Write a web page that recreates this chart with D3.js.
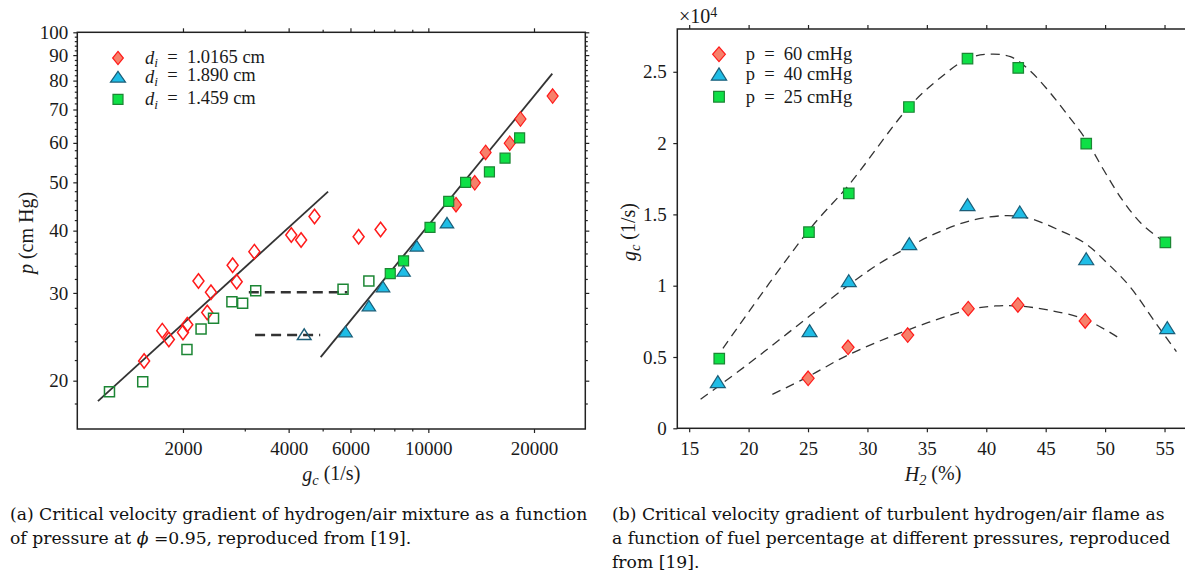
<!DOCTYPE html>
<html>
<head>
<meta charset="utf-8">
<script src="https://cdn.jsdelivr.net/npm/d3@7"></script>
<style>
  body { margin: 0; background: #fff; }
  svg text { font-family: "Liberation Serif", "Times New Roman", serif; fill: #1a1a1a; }
  svg text.caption { font-family: "DejaVu Serif", serif; fill: #111; }
</style>
</head>
<body>
<svg id="chart" width="1185" height="574"></svg>
<script>
// ---- left panel data: [g_c (1/s), p (cm Hg)] ----
const leftRedFilled = [[22600, 74.5], [18300, 67.0], [17060, 59.9], [14560, 57.4], [13560, 49.9], [11990, 45.1]];
const leftRedOpen = [
  [4740, 42.7], [4070, 39.2], [4340, 38.3], [6330, 38.9], [7310, 40.2], [3195, 36.3],
  [2770, 34.1], [2845, 31.6], [2214, 31.7], [2403, 30.1], [2345, 27.4], [2057, 25.9],
  [2000, 25.0], [1746, 25.2], [1823, 24.2], [1550, 21.9]
];
const leftGreenFilled = [[18200, 61.4], [16540, 55.9], [14930, 52.5], [12770, 50.0], [11430, 45.8], [10110, 40.6], [8500, 34.8], [7790, 32.8]];
const leftGreenOpen = [[1235, 19.0], [1536, 19.9], [2053, 23.1], [2252, 25.4], [2444, 26.7], [2757, 28.8], [2958, 28.6], [3223, 30.3], [5715, 30.5], [6770, 31.7]];
const leftBlueFilled = [[11300, 41.5], [9270, 37.3], [8500, 33.2], [7430, 30.9], [6770, 28.3], [5810, 25.1]];
const leftBlueOpen = [[4430, 24.8]];
const fitLow = [[1145, 18.2], [5180, 47.9]];
const fitHigh = [[4935, 22.3], [22550, 82.6]];
const dashUpper = [[3080, 30.1], [5880, 30.1]];
const dashLower = [[3210, 24.7], [4920, 24.7]];
const leftLegend = ["1.0165", "1.890", "1.459"];
const xMajorLeft = [2000, 4000, 6000, 10000, 20000];
const xMinorLeft = [3000, 5000, 7000, 8000, 9000];
const yMajorLeft = [20, 30, 40, 50, 60, 70, 80, 90, 100];
const yMinorLeft = [18, 22, 24, 26, 28, 32, 34, 36, 38, 42, 44, 46, 48, 52, 54, 56, 58, 62, 64, 66, 68, 72, 74, 76, 78, 82, 84, 86, 88, 92, 94, 96, 98];

// ---- right panel data: [H2 (%), g_c (1/s)] ----
const right60 = [[25.01, 3506], [28.37, 5680], [33.39, 6540], [38.48, 8390], [42.66, 8650], [48.32, 7525]];
const right40 = [[17.41, 3270], [25.13, 6850], [28.43, 10350], [33.52, 12950], [38.42, 15680], [42.82, 15170], [48.41, 11890], [55.23, 7055]];
const right25 = [[17.53, 4880], [25.08, 13750], [28.43, 16480], [33.49, 22530], [38.42, 25920], [42.69, 25270], [48.41, 19960], [55.07, 13040]];
const curve60 = [[22.0, 2380], [25.01, 3620], [28.37, 5140], [33.39, 6890], [38.48, 8300], [40.77, 8580], [42.66, 8580], [45.18, 8300], [48.32, 7640], [51.08, 6380]];
const curve40 = [[15.96, 2030], [17.41, 2920], [20.05, 4560], [22.56, 6190], [25.13, 7875], [28.43, 10050], [31.04, 11570], [33.52, 12730], [35.75, 13670], [38.89, 14610], [41.72, 14910], [43.6, 14730], [46.12, 13900], [48.32, 12970], [50.2, 11570], [52.09, 9930], [54.28, 7360], [56.0, 5370]];
const curve25 = [[17.84, 5610], [25.08, 13900], [28.43, 17060], [33.49, 22530], [35.9, 24420], [38.42, 25920], [40.14, 26230], [42.03, 26060], [43.6, 25130], [45.18, 23720], [46.74, 22090], [48.41, 20220], [49.88, 18110], [51.45, 16010], [53.02, 14380], [54.75, 13200]];
const rightLegend = ["60", "40", "25"];
const xTicksRight = [15, 20, 25, 30, 35, 40, 45, 50, 55];
const yTicksRight = [0, 5000, 10000, 15000, 20000, 25000];

const captionA = ["(a) Critical velocity gradient of hydrogen/air mixture as a function", "of pressure at ", " =0.95, reproduced from [19]."];
const captionB = ["(b) Critical velocity gradient of turbulent hydrogen/air flame as", "a function of fuel percentage at different pressures, reproduced", "from [19]."];

// ---- styles ----
const red = { fill: "#f7806a", stroke: "#ff1a1a" };
const blue = { fill: "#1fbde6", stroke: "#1b5e78" };
const green = { fill: "#0ee046", stroke: "#1c8634" };
const ink = "#222";
const tickFont = 19;

const svg = d3.select("#chart");

function diamond(w, h) { return `M0,${-h / 2}L${w / 2},0L0,${h / 2}L${-w / 2},0Z`; }
function triangle(w, h) { return `M0,${-h / 2}L${w / 2},${h / 2}L${-w / 2},${h / 2}Z`; }
function square(w) { return `M${-w / 2},${-w / 2}h${w}v${w}h${-w}Z`; }

function drawMarkers(g, data, x, y, path, color, filled) {
  g.append("g")
    .selectAll("path")
    .data(data)
    .join("path")
    .attr("transform", (d) => `translate(${x(d[0])},${y(d[1])})`)
    .attr("d", path)
    .attr("fill", filled ? color.fill : "none")
    .attr("stroke", color.stroke)
    .attr("stroke-width", filled ? 1.2 : 1.5);
}

function styleAxis(g) {
  g.select(".domain").remove();
  g.selectAll(".tick line").attr("stroke", ink).attr("stroke-width", 1.2);
  g.selectAll(".tick text").attr("font-size", tickFont).attr("fill", ink);
  g.attr("font-family", null).attr("font-size", null);
}

// italic symbol with subscript
function mathLabel(text, sym, sub, rest) {
  text.append("tspan").attr("font-style", "italic").text(sym);
  text.append("tspan").attr("font-size", "0.72em").attr("font-style", "italic").attr("dy", "0.25em").text(sub);
  text.append("tspan").attr("dy", "-0.25em").text(rest);
}

// ================= left panel =================
const L = { left: 77.3, right: 585.3, top: 32.3, bottom: 429 };
const xL = d3.scaleLog().domain([1000, 28000]).range([L.left, L.right]);
const yL = d3.scaleLog().domain([16, 100]).range([L.bottom, L.top]);
const gL = svg.append("g");

gL.append("g").attr("transform", `translate(0,${L.bottom})`)
  .call(d3.axisBottom(xL).tickValues(xMajorLeft).tickFormat(d3.format("d")).tickSize(4).tickPadding(9).tickSizeOuter(0))
  .call(styleAxis);
gL.append("g").attr("transform", `translate(0,${L.bottom})`)
  .call(d3.axisBottom(xL).tickValues(xMinorLeft).tickFormat("").tickSize(2.5).tickSizeOuter(0))
  .call(styleAxis);
gL.append("g").attr("transform", `translate(0,${L.top})`)
  .call(d3.axisTop(xL).tickValues(xMajorLeft).tickFormat("").tickSize(4).tickSizeOuter(0))
  .call(styleAxis);
gL.append("g").attr("transform", `translate(0,${L.top})`)
  .call(d3.axisTop(xL).tickValues(xMinorLeft).tickFormat("").tickSize(2.5).tickSizeOuter(0))
  .call(styleAxis);
gL.append("g").attr("transform", `translate(${L.left},0)`)
  .call(d3.axisLeft(yL).tickValues(yMajorLeft).tickFormat(d3.format("d")).tickSize(4).tickPadding(5).tickSizeOuter(0))
  .call(styleAxis);
gL.append("g").attr("transform", `translate(${L.left},0)`)
  .call(d3.axisLeft(yL).tickValues(yMinorLeft).tickFormat("").tickSize(2.5).tickSizeOuter(0))
  .call(styleAxis);
gL.append("g").attr("transform", `translate(${L.right},0)`)
  .call(d3.axisRight(yL).tickValues(yMajorLeft).tickFormat("").tickSize(4).tickSizeOuter(0))
  .call(styleAxis);
gL.append("g").attr("transform", `translate(${L.right},0)`)
  .call(d3.axisRight(yL).tickValues(yMinorLeft).tickFormat("").tickSize(2.5).tickSizeOuter(0))
  .call(styleAxis);

gL.append("rect")
  .attr("x", L.left).attr("y", L.top)
  .attr("width", L.right - L.left).attr("height", L.bottom - L.top)
  .attr("fill", "none").attr("stroke", ink).attr("stroke-width", 1.5);

const lineL = d3.line().x((d) => xL(d[0])).y((d) => yL(d[1]));
[fitLow, fitHigh].forEach((d) =>
  gL.append("path").attr("d", lineL(d)).attr("fill", "none").attr("stroke", "#333").attr("stroke-width", 1.8));
[dashUpper, dashLower].forEach((d) =>
  gL.append("path").attr("d", lineL(d)).attr("fill", "none").attr("stroke", "#333")
    .attr("stroke-width", 2.5).attr("stroke-dasharray", "10,6"));

drawMarkers(gL, leftRedOpen, xL, yL, diamond(11, 14.5), red, false);
drawMarkers(gL, leftGreenOpen, xL, yL, square(10), green, false);
drawMarkers(gL, leftBlueOpen, xL, yL, triangle(13.5, 10.5), blue, false);
drawMarkers(gL, leftRedFilled, xL, yL, diamond(11, 14.5), red, true);
drawMarkers(gL, leftGreenFilled, xL, yL, square(10), green, true);
drawMarkers(gL, leftBlueFilled, xL, yL, triangle(13.5, 10.5), blue, true);

// legend
const legL = gL.append("g");
const legShapes = [diamond(10.7, 13.3), triangle(15, 10.7), square(10)];
const legColors = [red, blue, green];
const legRowsL = [58, 76.7, 99.3];
leftLegend.forEach((v, i) => {
  legL.append("path").attr("transform", `translate(118,${legRowsL[i]})`).attr("d", legShapes[i])
    .attr("fill", legColors[i].fill).attr("stroke", legColors[i].stroke).attr("stroke-width", 1.2);
  const t = legL.append("text").attr("x", 145).attr("y", legRowsL[i] + 6).attr("font-size", 18.5);
  mathLabel(t, "d", "i", `\u2002=\u2002${v} cm`);
});

// axis labels
const xlabL = gL.append("text").attr("x", (L.left + L.right) / 2).attr("y", 481)
  .attr("text-anchor", "middle").attr("font-size", 20);
mathLabel(xlabL, "g", "c", " (1/s)");
const ylabL = gL.append("text").attr("transform", "translate(33,233) rotate(-90)")
  .attr("text-anchor", "middle").attr("font-size", 20);
ylabL.append("tspan").attr("font-style", "italic").text("p");
ylabL.append("tspan").text(" (cm Hg)");

// ================= right panel =================
const R = { left: 677.3, right: 1188.3, top: 29, bottom: 428.3 };
const xR = d3.scaleLinear().domain([14, 57]).range([R.left, R.right]);
const yR = d3.scaleLinear().domain([0, 28000]).range([R.bottom, R.top]);
const gR = svg.append("g");

gR.append("g").attr("transform", `translate(0,${R.bottom})`)
  .call(d3.axisBottom(xR).tickValues(xTicksRight).tickFormat(d3.format("d")).tickSize(4).tickPadding(9).tickSizeOuter(0))
  .call(styleAxis);
gR.append("g").attr("transform", `translate(0,${R.top})`)
  .call(d3.axisTop(xR).tickValues(xTicksRight).tickFormat("").tickSize(4).tickSizeOuter(0))
  .call(styleAxis);
gR.append("g").attr("transform", `translate(${R.left},0)`)
  .call(d3.axisLeft(yR).tickValues(yTicksRight).tickFormat((d) => d3.format("~g")(d / 10000)).tickSize(4).tickPadding(6.5).tickSizeOuter(0))
  .call(styleAxis);

gR.append("rect")
  .attr("x", R.left).attr("y", R.top)
  .attr("width", R.right - R.left).attr("height", R.bottom - R.top)
  .attr("fill", "none").attr("stroke", ink).attr("stroke-width", 1.5);

const lineR = d3.line().x((d) => xR(d[0])).y((d) => yR(d[1])).curve(d3.curveCatmullRom);
[curve60, curve40, curve25].forEach((d) =>
  gR.append("path").attr("d", lineR(d)).attr("fill", "none").attr("stroke", "#333")
    .attr("stroke-width", 1.3).attr("stroke-dasharray", "9,6"));

drawMarkers(gR, right60, xR, yR, diamond(12, 14.5), red, true);
drawMarkers(gR, right40, xR, yR, triangle(15, 12), blue, true);
drawMarkers(gR, right25, xR, yR, square(10.5), green, true);

const legR = gR.append("g");
const legShapesR = [diamond(12.7, 14.7), triangle(15.3, 12.3), square(10.7)];
const legRowsR = [54.3, 74, 96.7];
rightLegend.forEach((v, i) => {
  legR.append("path").attr("transform", `translate(719,${legRowsR[i]})`).attr("d", legShapesR[i])
    .attr("fill", legColors[i].fill).attr("stroke", legColors[i].stroke).attr("stroke-width", 1.2);
  legR.append("text").attr("x", 745.7).attr("y", legRowsR[i] + 6).attr("font-size", 18.5)
    .text(`p\u2002=\u2002${v} cmHg`);
});

// x10^4 multiplier
const mult = gR.append("text").attr("x", 679).attr("y", 23).attr("font-size", 20);
mult.append("tspan").text("\u00d710");
mult.append("tspan").attr("font-size", "0.7em").attr("dy", "-0.45em").text("4");

const xlabR = gR.append("text").attr("x", 933).attr("y", 481)
  .attr("text-anchor", "middle").attr("font-size", 20);
mathLabel(xlabR, "H", "2", " (%)");
const ylabR = gR.append("text").attr("transform", "translate(636,232) rotate(-90)")
  .attr("text-anchor", "middle").attr("font-size", 20);
mathLabel(ylabR, "g", "c", " (1/s)");

// ================= captions =================
const cap = svg.append("g").attr("font-size", 17.2);
cap.append("text").attr("class", "caption").attr("x", 10).attr("y", 520).text(captionA[0]);
const capA2 = cap.append("text").attr("class", "caption").attr("x", 10).attr("y", 544);
capA2.append("tspan").text(captionA[1]);
capA2.append("tspan").attr("font-style", "italic").text("\u03d5");
capA2.append("tspan").text(captionA[2]);
captionB.forEach((line, i) =>
  cap.append("text").attr("class", "caption").attr("x", 612).attr("y", 520 + i * 24).text(line));
</script>
</body>
</html>
